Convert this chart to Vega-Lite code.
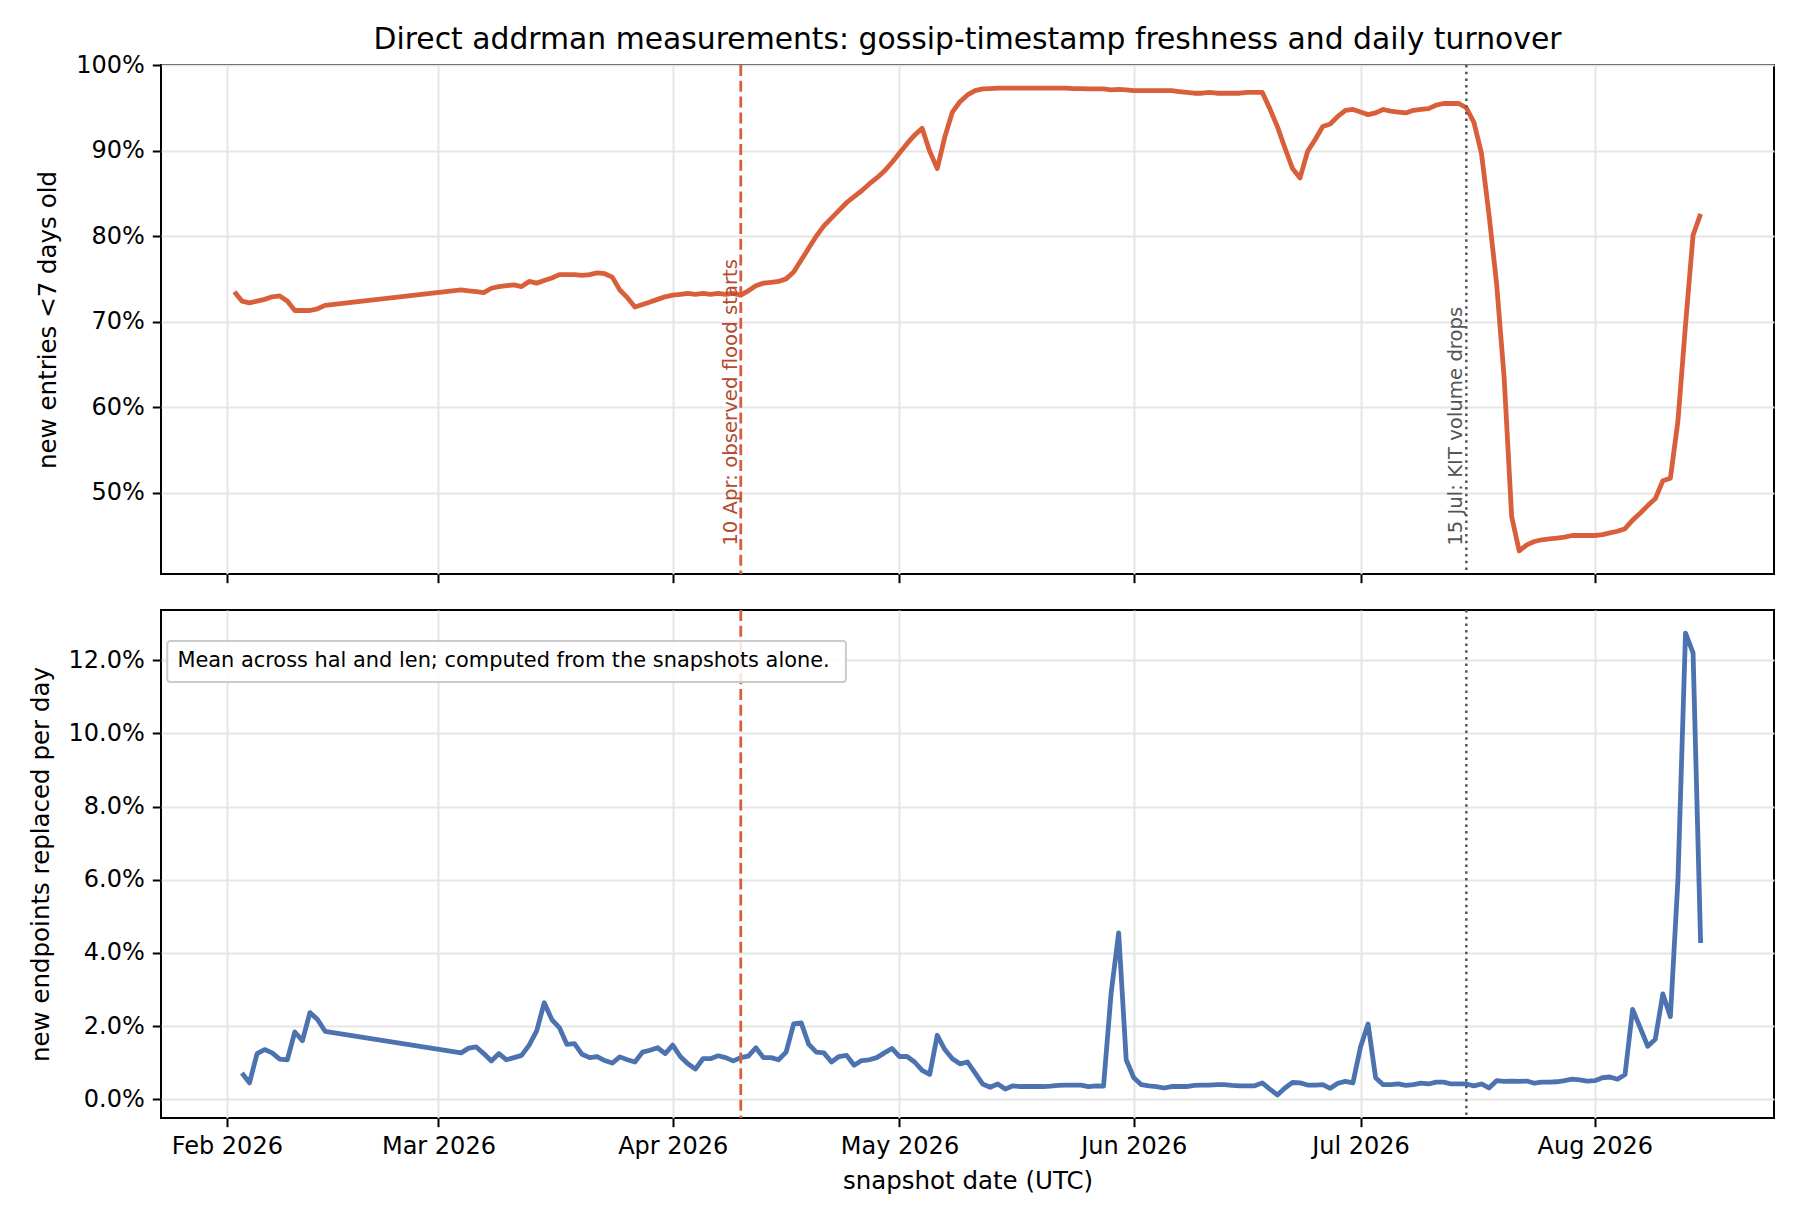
{
  "$schema": "https://vega.github.io/schema/vega-lite/v6.json",
  "padding": {"left": 27, "top": 24, "right": 20, "bottom": 20},
  "background": "white",
  "bounds": "flush",
  "spacing": 36,
  "config": {
    "font": "DejaVu Sans",
    "view": {"stroke": "#000000", "strokeWidth": 2},
    "axis": {
      "labelFont": "DejaVu Sans", "titleFont": "DejaVu Sans",
      "labelFontSize": 24, "titleFontSize": 24.5, "titleFontWeight": "normal",
      "labelColor": "#000000", "titleColor": "#000000",
      "tickColor": "#000000", "tickSize": 8.7, "tickWidth": 2,
      "gridColor": "#e6e6e6", "gridWidth": 2, "domain": false, "labelPadding": 8
    }
  },
  "datasets": {
    "series": [
      {"date": "2026-02-02", "fresh": 73.5, "turn": null},
      {"date": "2026-02-03", "fresh": 72.4, "turn": 0.72},
      {"date": "2026-02-04", "fresh": 72.2, "turn": 0.45},
      {"date": "2026-02-05", "fresh": 72.4, "turn": 1.25},
      {"date": "2026-02-06", "fresh": 72.6, "turn": 1.36},
      {"date": "2026-02-07", "fresh": 72.9, "turn": 1.27},
      {"date": "2026-02-08", "fresh": 73.0, "turn": 1.10},
      {"date": "2026-02-09", "fresh": 72.4, "turn": 1.08},
      {"date": "2026-02-10", "fresh": 71.3, "turn": 1.84},
      {"date": "2026-02-11", "fresh": 71.3, "turn": 1.60},
      {"date": "2026-02-12", "fresh": 71.3, "turn": 2.37},
      {"date": "2026-02-13", "fresh": 71.5, "turn": 2.18},
      {"date": "2026-02-14", "fresh": 71.9, "turn": 1.86},
      {"date": "2026-03-04", "fresh": 73.7, "turn": 1.27},
      {"date": "2026-03-05", "fresh": 73.6, "turn": 1.40},
      {"date": "2026-03-06", "fresh": 73.5, "turn": 1.43},
      {"date": "2026-03-07", "fresh": 73.4, "turn": 1.25},
      {"date": "2026-03-08", "fresh": 73.9, "turn": 1.05},
      {"date": "2026-03-09", "fresh": 74.1, "turn": 1.25},
      {"date": "2026-03-10", "fresh": 74.2, "turn": 1.08},
      {"date": "2026-03-11", "fresh": 74.3, "turn": 1.14},
      {"date": "2026-03-12", "fresh": 74.1, "turn": 1.20},
      {"date": "2026-03-13", "fresh": 74.7, "turn": 1.48},
      {"date": "2026-03-14", "fresh": 74.5, "turn": 1.87},
      {"date": "2026-03-15", "fresh": 74.8, "turn": 2.64},
      {"date": "2026-03-16", "fresh": 75.1, "turn": 2.18},
      {"date": "2026-03-17", "fresh": 75.5, "turn": 1.96},
      {"date": "2026-03-18", "fresh": 75.5, "turn": 1.50},
      {"date": "2026-03-19", "fresh": 75.5, "turn": 1.52},
      {"date": "2026-03-20", "fresh": 75.4, "turn": 1.23},
      {"date": "2026-03-21", "fresh": 75.5, "turn": 1.14},
      {"date": "2026-03-22", "fresh": 75.7, "turn": 1.17},
      {"date": "2026-03-23", "fresh": 75.6, "turn": 1.06},
      {"date": "2026-03-24", "fresh": 75.2, "turn": 0.99},
      {"date": "2026-03-25", "fresh": 73.7, "turn": 1.16},
      {"date": "2026-03-26", "fresh": 72.8, "turn": 1.08},
      {"date": "2026-03-27", "fresh": 71.7, "turn": 1.02},
      {"date": "2026-03-28", "fresh": 72.0, "turn": 1.29},
      {"date": "2026-03-29", "fresh": 72.3, "turn": 1.34},
      {"date": "2026-03-30", "fresh": 72.6, "turn": 1.41},
      {"date": "2026-03-31", "fresh": 72.9, "turn": 1.25},
      {"date": "2026-04-01", "fresh": 73.1, "turn": 1.48},
      {"date": "2026-04-02", "fresh": 73.2, "turn": 1.17},
      {"date": "2026-04-03", "fresh": 73.3, "turn": 0.97},
      {"date": "2026-04-04", "fresh": 73.2, "turn": 0.83},
      {"date": "2026-04-05", "fresh": 73.3, "turn": 1.11},
      {"date": "2026-04-06", "fresh": 73.2, "turn": 1.11},
      {"date": "2026-04-07", "fresh": 73.3, "turn": 1.19},
      {"date": "2026-04-08", "fresh": 73.2, "turn": 1.14},
      {"date": "2026-04-09", "fresh": 73.3, "turn": 1.05},
      {"date": "2026-04-10", "fresh": 73.1, "turn": 1.14},
      {"date": "2026-04-11", "fresh": 73.6, "turn": 1.18},
      {"date": "2026-04-12", "fresh": 74.2, "turn": 1.41},
      {"date": "2026-04-13", "fresh": 74.5, "turn": 1.14},
      {"date": "2026-04-14", "fresh": 74.6, "turn": 1.14},
      {"date": "2026-04-15", "fresh": 74.7, "turn": 1.08},
      {"date": "2026-04-16", "fresh": 75.0, "turn": 1.29},
      {"date": "2026-04-17", "fresh": 75.8, "turn": 2.06},
      {"date": "2026-04-18", "fresh": 77.2, "turn": 2.09},
      {"date": "2026-04-19", "fresh": 78.6, "turn": 1.50},
      {"date": "2026-04-20", "fresh": 80.0, "turn": 1.29},
      {"date": "2026-04-21", "fresh": 81.2, "turn": 1.27},
      {"date": "2026-04-22", "fresh": 82.1, "turn": 1.02},
      {"date": "2026-04-23", "fresh": 83.0, "turn": 1.17},
      {"date": "2026-04-24", "fresh": 83.9, "turn": 1.20},
      {"date": "2026-04-25", "fresh": 84.6, "turn": 0.93},
      {"date": "2026-04-26", "fresh": 85.3, "turn": 1.06},
      {"date": "2026-04-27", "fresh": 86.1, "turn": 1.08},
      {"date": "2026-04-28", "fresh": 86.8, "turn": 1.14},
      {"date": "2026-04-29", "fresh": 87.6, "turn": 1.27},
      {"date": "2026-04-30", "fresh": 88.6, "turn": 1.39},
      {"date": "2026-05-01", "fresh": 89.7, "turn": 1.17},
      {"date": "2026-05-02", "fresh": 90.8, "turn": 1.17},
      {"date": "2026-05-03", "fresh": 91.8, "turn": 1.02},
      {"date": "2026-05-04", "fresh": 92.6, "turn": 0.79},
      {"date": "2026-05-05", "fresh": 89.9, "turn": 0.68},
      {"date": "2026-05-06", "fresh": 87.9, "turn": 1.75},
      {"date": "2026-05-07", "fresh": 91.6, "turn": 1.36},
      {"date": "2026-05-08", "fresh": 94.5, "turn": 1.11},
      {"date": "2026-05-09", "fresh": 95.7, "turn": 0.97},
      {"date": "2026-05-10", "fresh": 96.5, "turn": 1.02},
      {"date": "2026-05-11", "fresh": 97.0, "turn": 0.72},
      {"date": "2026-05-12", "fresh": 97.2, "turn": 0.42},
      {"date": "2026-05-13", "fresh": 97.25, "turn": 0.33},
      {"date": "2026-05-14", "fresh": 97.3, "turn": 0.42},
      {"date": "2026-05-15", "fresh": 97.3, "turn": 0.28},
      {"date": "2026-05-16", "fresh": 97.3, "turn": 0.37},
      {"date": "2026-05-17", "fresh": 97.3, "turn": 0.35},
      {"date": "2026-05-18", "fresh": 97.3, "turn": 0.35},
      {"date": "2026-05-19", "fresh": 97.3, "turn": 0.35},
      {"date": "2026-05-20", "fresh": 97.3, "turn": 0.35},
      {"date": "2026-05-21", "fresh": 97.3, "turn": 0.36},
      {"date": "2026-05-22", "fresh": 97.3, "turn": 0.38},
      {"date": "2026-05-23", "fresh": 97.3, "turn": 0.39},
      {"date": "2026-05-24", "fresh": 97.25, "turn": 0.39},
      {"date": "2026-05-25", "fresh": 97.25, "turn": 0.39},
      {"date": "2026-05-26", "fresh": 97.2, "turn": 0.35},
      {"date": "2026-05-27", "fresh": 97.2, "turn": 0.37},
      {"date": "2026-05-28", "fresh": 97.2, "turn": 0.36},
      {"date": "2026-05-29", "fresh": 97.1, "turn": 2.9},
      {"date": "2026-05-30", "fresh": 97.15, "turn": 4.55},
      {"date": "2026-05-31", "fresh": 97.1, "turn": 1.08},
      {"date": "2026-06-01", "fresh": 97.0, "turn": 0.59},
      {"date": "2026-06-02", "fresh": 97.0, "turn": 0.40},
      {"date": "2026-06-03", "fresh": 97.0, "turn": 0.37},
      {"date": "2026-06-04", "fresh": 97.0, "turn": 0.35},
      {"date": "2026-06-05", "fresh": 97.0, "turn": 0.31},
      {"date": "2026-06-06", "fresh": 97.0, "turn": 0.35},
      {"date": "2026-06-07", "fresh": 96.9, "turn": 0.35},
      {"date": "2026-06-08", "fresh": 96.8, "turn": 0.35},
      {"date": "2026-06-09", "fresh": 96.7, "turn": 0.38},
      {"date": "2026-06-10", "fresh": 96.7, "turn": 0.39},
      {"date": "2026-06-11", "fresh": 96.8, "turn": 0.39},
      {"date": "2026-06-12", "fresh": 96.7, "turn": 0.40},
      {"date": "2026-06-13", "fresh": 96.7, "turn": 0.40},
      {"date": "2026-06-14", "fresh": 96.7, "turn": 0.38},
      {"date": "2026-06-15", "fresh": 96.7, "turn": 0.37},
      {"date": "2026-06-16", "fresh": 96.8, "turn": 0.37},
      {"date": "2026-06-17", "fresh": 96.8, "turn": 0.37},
      {"date": "2026-06-18", "fresh": 96.8, "turn": 0.45},
      {"date": "2026-06-19", "fresh": 94.9, "turn": 0.28},
      {"date": "2026-06-20", "fresh": 92.8, "turn": 0.12},
      {"date": "2026-06-21", "fresh": 90.3, "turn": 0.31},
      {"date": "2026-06-22", "fresh": 87.9, "turn": 0.46},
      {"date": "2026-06-23", "fresh": 86.8, "turn": 0.45},
      {"date": "2026-06-24", "fresh": 89.9, "turn": 0.39},
      {"date": "2026-06-25", "fresh": 91.3, "turn": 0.39},
      {"date": "2026-06-26", "fresh": 92.8, "turn": 0.40},
      {"date": "2026-06-27", "fresh": 93.1, "turn": 0.30},
      {"date": "2026-06-28", "fresh": 94.0, "turn": 0.44},
      {"date": "2026-06-29", "fresh": 94.7, "turn": 0.49},
      {"date": "2026-06-30", "fresh": 94.8, "turn": 0.45},
      {"date": "2026-07-01", "fresh": 94.5, "turn": 1.43},
      {"date": "2026-07-02", "fresh": 94.2, "turn": 2.06},
      {"date": "2026-07-03", "fresh": 94.4, "turn": 0.59},
      {"date": "2026-07-04", "fresh": 94.8, "turn": 0.40},
      {"date": "2026-07-05", "fresh": 94.6, "turn": 0.40},
      {"date": "2026-07-06", "fresh": 94.5, "turn": 0.42},
      {"date": "2026-07-07", "fresh": 94.4, "turn": 0.38},
      {"date": "2026-07-08", "fresh": 94.7, "turn": 0.40},
      {"date": "2026-07-09", "fresh": 94.8, "turn": 0.44},
      {"date": "2026-07-10", "fresh": 94.9, "turn": 0.42},
      {"date": "2026-07-11", "fresh": 95.3, "turn": 0.47},
      {"date": "2026-07-12", "fresh": 95.5, "turn": 0.47},
      {"date": "2026-07-13", "fresh": 95.5, "turn": 0.42},
      {"date": "2026-07-14", "fresh": 95.5, "turn": 0.42},
      {"date": "2026-07-15", "fresh": 95.0, "turn": 0.42},
      {"date": "2026-07-16", "fresh": 93.3, "turn": 0.37},
      {"date": "2026-07-17", "fresh": 89.7, "turn": 0.42},
      {"date": "2026-07-18", "fresh": 82.5, "turn": 0.31},
      {"date": "2026-07-19", "fresh": 74.5, "turn": 0.51},
      {"date": "2026-07-20", "fresh": 63.5, "turn": 0.49},
      {"date": "2026-07-21", "fresh": 47.2, "turn": 0.50},
      {"date": "2026-07-22", "fresh": 43.2, "turn": 0.49},
      {"date": "2026-07-23", "fresh": 43.9, "turn": 0.50},
      {"date": "2026-07-24", "fresh": 44.3, "turn": 0.44},
      {"date": "2026-07-25", "fresh": 44.5, "turn": 0.47},
      {"date": "2026-07-26", "fresh": 44.6, "turn": 0.47},
      {"date": "2026-07-27", "fresh": 44.7, "turn": 0.48},
      {"date": "2026-07-28", "fresh": 44.8, "turn": 0.51},
      {"date": "2026-07-29", "fresh": 45.0, "turn": 0.55},
      {"date": "2026-07-30", "fresh": 45.0, "turn": 0.53},
      {"date": "2026-07-31", "fresh": 45.0, "turn": 0.50},
      {"date": "2026-08-01", "fresh": 45.0, "turn": 0.51},
      {"date": "2026-08-02", "fresh": 45.1, "turn": 0.59},
      {"date": "2026-08-03", "fresh": 45.3, "turn": 0.61},
      {"date": "2026-08-04", "fresh": 45.5, "turn": 0.55},
      {"date": "2026-08-05", "fresh": 45.8, "turn": 0.68},
      {"date": "2026-08-06", "fresh": 46.8, "turn": 2.46},
      {"date": "2026-08-07", "fresh": 47.6, "turn": 1.96},
      {"date": "2026-08-08", "fresh": 48.5, "turn": 1.45},
      {"date": "2026-08-09", "fresh": 49.3, "turn": 1.64},
      {"date": "2026-08-10", "fresh": 51.4, "turn": 2.88},
      {"date": "2026-08-11", "fresh": 51.7, "turn": 2.26},
      {"date": "2026-08-12", "fresh": 58.4, "turn": 6.0},
      {"date": "2026-08-13", "fresh": 69.6, "turn": 12.74},
      {"date": "2026-08-14", "fresh": 80.1, "turn": 12.2},
      {"date": "2026-08-15", "fresh": 82.6, "turn": 4.27}
    ],
    "events": [
      {"date": "2026-04-10", "kind": "flood", "label": "10 Apr: observed flood starts"},
      {"date": "2026-07-15", "kind": "kit", "label": "15 Jul: KIT volume drops"}
    ],
    "note": [
      {"text": "Mean across hal and len; computed from the snapshots alone."}
    ]
  },
  "vconcat": [
    {
      "width": 1613,
      "height": 509,
      "title": {
        "text": "Direct addrman measurements: gossip-timestamp freshness and daily turnover",
        "font": "DejaVu Sans", "fontSize": 29.8, "fontWeight": "normal", "color": "#000000",
        "anchor": "middle", "offset": -26, "baseline": "alphabetic"
      },
      "layer": [
        {
          "data": {"name": "series"},
          "mark": {"type": "line", "color": "#d95f3b", "strokeWidth": 4.8, "strokeJoin": "round"},
          "encoding": {
            "x": {
              "field": "date", "type": "temporal",
              "scale": {"type": "utc", "nice": false, "domain": [{"year": 2026, "month": 1, "date": 23, "hours": 7, "utc": true}, {"year": 2026, "month": 8, "date": 24, "hours": 17, "utc": true}]},
              "axis": {
                "values": [
                  {"year": 2026, "month": 2, "date": 1, "utc": true},
                  {"year": 2026, "month": 3, "date": 1, "utc": true},
                  {"year": 2026, "month": 4, "date": 1, "utc": true},
                  {"year": 2026, "month": 5, "date": 1, "utc": true},
                  {"year": 2026, "month": 6, "date": 1, "utc": true},
                  {"year": 2026, "month": 7, "date": 1, "utc": true},
                  {"year": 2026, "month": 8, "date": 1, "utc": true}
                ],
                "labels": false, "title": null, "grid": true
              }
            },
            "y": {
              "field": "fresh", "type": "quantitative",
              "scale": {"domain": [40.5, 100], "nice": false, "zero": false},
              "axis": {"values": [50, 60, 70, 80, 90, 100], "labelExpr": "datum.value + '%'", "title": "new entries <7 days old", "titlePadding": 15, "grid": true}
            }
          }
        },
        {
          "data": {"name": "events"},
          "transform": [{"filter": "datum.kind == 'flood'"}],
          "mark": {"type": "rule", "color": "#d95f3b", "strokeWidth": 2.8, "strokeDash": [11, 4.8]},
          "encoding": {"x": {"field": "date", "type": "temporal"}}
        },
        {
          "data": {"name": "events"},
          "transform": [{"filter": "datum.kind == 'kit'"}],
          "mark": {"type": "rule", "color": "#555555", "strokeWidth": 2.5, "strokeDash": [2.5, 4.2]},
          "encoding": {"x": {"field": "date", "type": "temporal"}}
        },
        {
          "data": {"name": "events"},
          "transform": [{"filter": "datum.kind == 'flood'"}],
          "mark": {"type": "text", "angle": 270, "align": "left", "baseline": "alphabetic", "dy": -4, "fontSize": 19.7, "font": "DejaVu Sans", "color": "#b34a32"},
          "encoding": {
            "x": {"field": "date", "type": "temporal"},
            "y": {"datum": 43.8, "type": "quantitative"},
            "text": {"field": "label"}
          }
        },
        {
          "data": {"name": "events"},
          "transform": [{"filter": "datum.kind == 'kit'"}],
          "mark": {"type": "text", "angle": 270, "align": "left", "baseline": "alphabetic", "dy": -4, "fontSize": 19.7, "font": "DejaVu Sans", "color": "#555555"},
          "encoding": {
            "x": {"field": "date", "type": "temporal"},
            "y": {"datum": 43.8, "type": "quantitative"},
            "text": {"field": "label"}
          }
        }
      ]
    },
    {
      "width": 1613,
      "height": 508,
      "layer": [
        {
          "data": {"name": "series"},
          "mark": {"type": "line", "color": "#4c72b0", "strokeWidth": 4.8, "strokeJoin": "round"},
          "encoding": {
            "x": {
              "field": "date", "type": "temporal",
              "scale": {"type": "utc", "nice": false, "domain": [{"year": 2026, "month": 1, "date": 23, "hours": 7, "utc": true}, {"year": 2026, "month": 8, "date": 24, "hours": 17, "utc": true}]},
              "axis": {
                "values": [
                  {"year": 2026, "month": 2, "date": 1, "utc": true},
                  {"year": 2026, "month": 3, "date": 1, "utc": true},
                  {"year": 2026, "month": 4, "date": 1, "utc": true},
                  {"year": 2026, "month": 5, "date": 1, "utc": true},
                  {"year": 2026, "month": 6, "date": 1, "utc": true},
                  {"year": 2026, "month": 7, "date": 1, "utc": true},
                  {"year": 2026, "month": 8, "date": 1, "utc": true}
                ],
                "format": "%b %Y", "title": "snapshot date (UTC)", "titlePadding": 11, "grid": true, "labelFlush": false, "labelOverlap": false
              }
            },
            "y": {
              "field": "turn", "type": "quantitative",
              "scale": {"domain": [-0.51, 13.37], "nice": false, "zero": false},
              "axis": {"values": [0, 2, 4, 6, 8, 10, 12], "labelExpr": "format(datum.value, '.1f') + '%'", "title": "new endpoints replaced per day", "titlePadding": 15, "grid": true}
            }
          }
        },
        {
          "data": {"name": "events"},
          "transform": [{"filter": "datum.kind == 'flood'"}],
          "mark": {"type": "rule", "color": "#d95f3b", "strokeWidth": 2.8, "strokeDash": [11, 4.8]},
          "encoding": {"x": {"field": "date", "type": "temporal"}}
        },
        {
          "data": {"name": "events"},
          "transform": [{"filter": "datum.kind == 'kit'"}],
          "mark": {"type": "rule", "color": "#555555", "strokeWidth": 2.5, "strokeDash": [2.5, 4.2]},
          "encoding": {"x": {"field": "date", "type": "temporal"}}
        },
        {
          "data": {"name": "note"},
          "mark": {"type": "rect", "fill": "#ffffff", "fillOpacity": 0.85, "stroke": "#cccccc", "strokeWidth": 2, "cornerRadius": 3},
          "encoding": {
            "x": {"datum": {"year": 2026, "month": 1, "date": 24, "hours": 3, "utc": true}, "type": "temporal"},
            "x2": {"datum": {"year": 2026, "month": 4, "date": 23, "hours": 22, "utc": true}},
            "y": {"datum": 12.52, "type": "quantitative"},
            "y2": {"datum": 11.40}
          }
        },
        {
          "data": {"name": "note"},
          "mark": {"type": "text", "align": "left", "baseline": "alphabetic", "fontSize": 20.9, "font": "DejaVu Sans", "color": "#000000"},
          "encoding": {
            "x": {"datum": {"year": 2026, "month": 1, "date": 25, "hours": 11, "utc": true}, "type": "temporal"},
            "y": {"datum": 11.80, "type": "quantitative"},
            "text": {"field": "text"}
          }
        }
      ]
    }
  ]
}
